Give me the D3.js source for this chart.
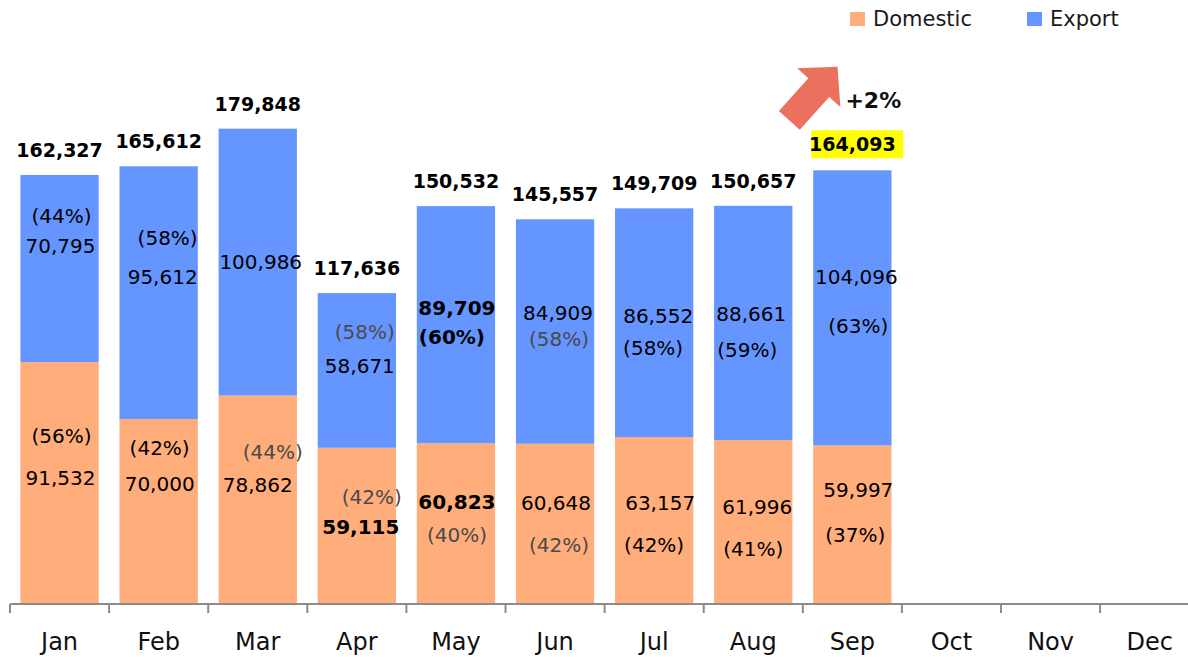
<!DOCTYPE html>
<html>
<head>
<meta charset="utf-8">
<script src="https://cdn.jsdelivr.net/npm/d3@7"></script>
<style>
	body { margin: 0; background: #fff; }
	svg { display: block; }
	text { font-family: "DejaVu Sans", Verdana, sans-serif; }
</style>
</head>
<body>
<div id="chart"></div>
<script>
// chart values
var months = ["Jan", "Feb", "Mar", "Apr", "May", "Jun", "Jul", "Aug", "Sep", "Oct", "Nov", "Dec"];
var domestic = [91532, 70000, 78862, 59115, 60823, 60648, 63157, 61996, 59997];
var exports = [70795, 95612, 100986, 58671, 89709, 84909, 86552, 88661, 104096];
var totals = [162327, 165612, 179848, 117636, 150532, 145557, 149709, 150657, 164093];
var domesticPct = [56, 42, 44, 42, 40, 42, 42, 41, 37];
var exportPct = [44, 58, null, 58, 60, 58, 58, 59, 63];
var changeLabel = "+2%";

var width = 1188;
var height = 657;
var baseY = 604;

var colors = { domestic: "#FFAD7A", exp: "#6595FE" };

// label nudges [dx, dy] relative to bar centre / segment middle
var expValNudge = [[1,-23],[4,-16],[3,0],[3,-4],[1,-17],[3,-19],[4,-7],[-2,-9],[4,-31]];
var expPctNudge = [[2,-53],[9,-55],null,[8,-38],[-4,12],[4,7],[-1,25],[-6,27],[6,18]];
var domValNudge = [[1,-5],[1,-27],[0,-15],[4,1],[1,-22],[1,-21],[6,-18],[4,-15],[6,-35]];
var domPctNudge = [[2,-47],[1,-63],[15,-48],[15,-29],[1,11],[4,21],[0,24],[0,27],[3,10]];

// label styles: "light" thin grey text, "bold"
var expValStyle = ["", "", "", "", "bold", "", "", "", ""];
var expPctStyle = ["", "", "", "light", "bold", "light", "", "", ""];
var domValStyle = ["", "", "", "bold", "bold", "", "", "", ""];
var domPctStyle = ["", "", "light", "light", "light", "light", "", "", ""];

var svg = d3.select("#chart")
  .append("svg")
	.attr("width", width)
	.attr("height", height);

var x = d3.scaleBand()
	.domain(months)
	.range([10, 10 + 99.1 * 12])
	.paddingInner(0.21)
	.paddingOuter(0.105);

var y = d3.scaleLinear()
	.domain([0, 200000])
	.range([baseY, baseY - 528.6]);

var data = domestic.map(function(d, i) {
	return { month: months[i], i: i, domestic: d, exp: exports[i], total: totals[i] };
});

// bars
var bars = svg.selectAll(".bar")
	.data(data)
  .enter().append("g")
	.attr("class", "bar");

bars.append("rect")
	.attr("x", function(d) { return x(d.month); })
	.attr("width", x.bandwidth())
	.attr("y", function(d) { return y(d.domestic); })
	.attr("height", function(d) { return baseY - y(d.domestic); })
	.style("fill", colors.domestic);

bars.append("rect")
	.attr("x", function(d) { return x(d.month); })
	.attr("width", x.bandwidth())
	.attr("y", function(d) { return y(d.total); })
	.attr("height", function(d) { return y(d.domestic) - y(d.total); })
	.style("fill", colors.exp);

// axis
var axisG = svg.append("g");
axisG.append("line")
	.attr("x1", 10).attr("x2", width)
	.attr("y1", baseY).attr("y2", baseY)
	.style("stroke", "#8c8c8c")
	.style("stroke-width", 2);

axisG.selectAll(".tick")
	.data(months)
  .enter().append("line")
	.attr("x1", function(d) { return x(d) - x.step() * x.paddingOuter(); })
	.attr("x2", function(d) { return x(d) - x.step() * x.paddingOuter(); })
	.attr("y1", baseY)
	.attr("y2", baseY + 9)
	.style("stroke", "#8c8c8c")
	.style("stroke-width", 2);

axisG.selectAll(".mlabel")
	.data(months)
  .enter().append("text")
	.attr("x", function(d) { return x(d) + x.bandwidth() / 2; })
	.attr("y", 650)
	.attr("text-anchor", "middle")
	.style("font-size", "24px")
	.style("fill", "#111")
	.text(function(d) { return d; });

var fmt = d3.format(",");

function addLabel(cx, cy, txt, style) {
	svg.append("text")
		.attr("x", cx)
		.attr("y", cy)
		.attr("text-anchor", "middle")
		.attr("dominant-baseline", "central")
		.style("font-size", "20px")
		.style("font-weight", style === "bold" ? "bold" : "normal")
		.style("fill", style === "light" ? "#4a4a4a" : "#000")
		.text(txt);
}

// segment labels
data.forEach(function(d, i) {
	var cx = x(d.month) + x.bandwidth() / 2;
	var expMid = (y(d.total) + y(d.domestic)) / 2;
	var domMid = (y(d.domestic) + baseY) / 2;

	addLabel(cx + expValNudge[i][0], expMid + expValNudge[i][1], fmt(d.exp), expValStyle[i]);
	if (exportPct[i] !== null)
		addLabel(cx + expPctNudge[i][0], expMid + expPctNudge[i][1], "(" + exportPct[i] + "%)", expPctStyle[i]);
	addLabel(cx + domValNudge[i][0], domMid + domValNudge[i][1], fmt(d.domestic), domValStyle[i]);
	addLabel(cx + domPctNudge[i][0], domMid + domPctNudge[i][1], "(" + domesticPct[i] + "%)", domPctStyle[i]);
});

// total labels, latest month highlighted
var last = data.length - 1;
var lastCx = x(data[last].month) + x.bandwidth() / 2;
var lastTop = y(data[last].total);

svg.append("rect")
	.attr("x", lastCx - 41)
	.attr("y", lastTop - 40)
	.attr("width", 92)
	.attr("height", 28)
	.style("fill", "#FFFF00");

svg.selectAll(".total")
	.data(data)
  .enter().append("text")
	.attr("class", "total")
	.attr("x", function(d) { return x(d.month) + x.bandwidth() / 2; })
	.attr("y", function(d, i) { return y(d.total) - (i === last ? 26 : 25); })
	.attr("text-anchor", "middle")
	.attr("dominant-baseline", "central")
	.style("font-size", "19px")
	.style("font-weight", "bold")
	.style("fill", "#000")
	.text(function(d) { return fmt(d.total); });

// growth arrow
var arrowLen = 72, headLen = 28, headW = 58, shaftW = 28;
svg.append("path")
	.attr("d", "M0," + (-shaftW / 2) +
		"L" + (arrowLen - headLen) + "," + (-shaftW / 2) +
		"L" + (arrowLen - headLen) + "," + (-headW / 2) +
		"L" + arrowLen + ",0" +
		"L" + (arrowLen - headLen) + "," + (headW / 2) +
		"L" + (arrowLen - headLen) + "," + (shaftW / 2) +
		"L0," + (shaftW / 2) + "Z")
	.attr("transform", "translate(" + (lastCx - 63) + "," + (lastTop - 50) + ") rotate(-48)")
	.style("fill", "#EC705E");

svg.append("text")
	.attr("x", lastCx + 21)
	.attr("y", lastTop - 70)
	.attr("text-anchor", "middle")
	.attr("dominant-baseline", "central")
	.style("font-size", "22px")
	.style("font-weight", "bold")
	.style("fill", "#111")
	.text(changeLabel);

// legend
var legend = svg.append("g").attr("transform", "translate(850,11)");
var legendItems = [["Domestic", colors.domestic, 0], ["Export", colors.exp, 177]];
legendItems.forEach(function(it) {
	legend.append("rect")
		.attr("x", it[2]).attr("y", 1)
		.attr("width", 15).attr("height", 14)
		.style("fill", it[1]);
	legend.append("text")
		.attr("x", it[2] + 23)
		.attr("y", 8)
		.attr("dominant-baseline", "central")
		.style("font-size", "21px")
		.style("fill", "#1a1a1a")
		.text(it[0]);
});
</script>
</body>
</html>
